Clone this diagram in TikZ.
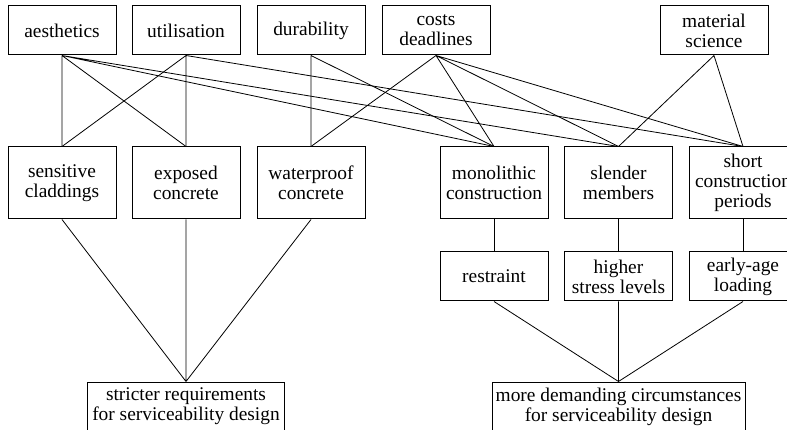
\documentclass[tikz,border=0pt]{standalone}
\usepackage{fontspec}
\setmainfont{Liberation Serif}
\usepackage{tikz}

\tikzset{
  box/.style={draw, line width=1pt, align=center, inner sep=0pt,
    minimum width=108pt, minimum height=49pt,
    font=\fontsize{19.4}{20}\selectfont},
  link/.style={line width=0.8pt}
}

\begin{document}
\begin{tikzpicture}[x=1pt, y=-1pt]
\useasboundingbox (0,0) rectangle (787,430);

\node[box] (aes) at (62, 30.5) {aesthetics};
\node[box] (uti) at (186, 30.5) {utilisation};
\node[box] (dur) at (311, 30.5) {durability};
\node[box] (cost) at (436, 30.5) {costs\\deadlines};
\node[box] (mat) at (714, 30.5) {material\\science};

\node[box, minimum height=72pt] (sens) at (62, 183) {sensitive\\claddings};
\node[box, minimum height=72pt] (expo) at (186, 183) {exposed\\concrete};
\node[box, minimum height=72pt] (wat) at (311, 183) {waterproof\\concrete};
\node[box, minimum height=72pt] (mono) at (494, 183) {monolithic\\construction};
\node[box, minimum height=72pt] (slen) at (618.5, 183) {slender\\members};
\node[box, minimum height=72pt] (short) at (743, 183) {short\\construction\\periods};

\node[box] (restr) at (494, 276.5) {restraint};
\node[box] (high) at (618.5, 276.5) {higher\\stress levels};
\node[box] (early) at (743, 276.5) {early-age\\loading};

\node[box, minimum width=197pt] (strict) at (186, 406.5) {stricter requirements\\for serviceability design};
\node[box, minimum width=253pt] (demand) at (618.5, 406.5) {more demanding circumstances\\for serviceability design};

% influences on the practical demands
\draw[link] (aes.south)--(sens.north) (aes.south)--(expo.north) (aes.south)--(mono.north) (aes.south)--(slen.north);
\draw[link] (uti.south)--(sens.north) (uti.south)--(expo.north) (uti.south)--(short.north);
\draw[link] (dur.south)--(wat.north) (dur.south)--(mono.north);
\draw[link] (cost.south)--(wat.north) (cost.south)--(mono.north) (cost.south)--(slen.north) (cost.south)--(short.north);
\draw[link] (mat.south)--(slen.north) (mat.south)--(short.north);

\draw[link] (mono.south)--(restr.north) (slen.south)--(high.north) (short.south)--(early.north);

\draw[link] (sens.south)--(strict.north) (expo.south)--(strict.north) (wat.south)--(strict.north);
\draw[link] (restr.south)--(demand.north) (high.south)--(demand.north) (early.south)--(demand.north);

\end{tikzpicture}
\end{document}
